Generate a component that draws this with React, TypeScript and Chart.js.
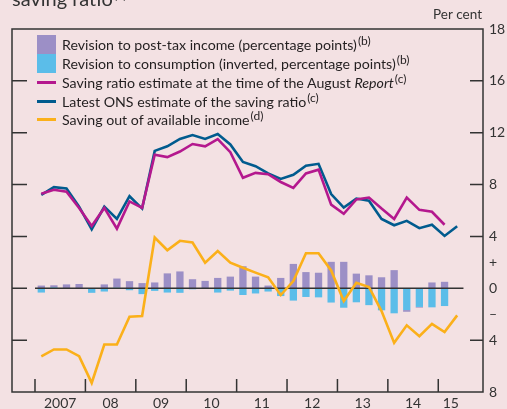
import React, { useEffect, useRef } from 'react';
import { Chart, registerables } from 'chart.js';

Chart.register(...registerables);

// ---- Data ----
const quarters = [
  '2007 Q1', '2007 Q2', '2007 Q3', '2007 Q4',
  '2008 Q1', '2008 Q2', '2008 Q3', '2008 Q4',
  '2009 Q1', '2009 Q2', '2009 Q3', '2009 Q4',
  '2010 Q1', '2010 Q2', '2010 Q3', '2010 Q4',
  '2011 Q1', '2011 Q2', '2011 Q3', '2011 Q4',
  '2012 Q1', '2012 Q2', '2012 Q3', '2012 Q4',
  '2013 Q1', '2013 Q2', '2013 Q3', '2013 Q4',
  '2014 Q1', '2014 Q2', '2014 Q3', '2014 Q4',
  '2015 Q1', '2015 Q2',
];
const yearLabels = ['2007', '08', '09', '10', '11', '12', '13', '14', '15'];

// Revision to post-tax income (percentage points)
const incomeRevision = [
  0.21, 0.15, 0.3, 0.33, 0.0, 0.3, 0.7, 0.55, 0.4, 0.45, 1.15, 1.3,
  0.7, 0.57, 0.8, 0.9, 1.7, 0.9, 0.21, 0.8, 1.88, 1.25, 1.2, 2.04,
  2.04, 1.13, 1.0, 0.85, 1.4, -0.13, -0.05, 0.45, 0.5,
];
// Revision to consumption (inverted, percentage points)
const consumptionRevision = [
  -0.33, 0.08, -0.03, -0.03, -0.35, -0.25, 0.05, -0.15, -0.45, -0.2, -0.33, -0.35,
  -0.08, -0.05, -0.33, -0.18, -0.52, -0.4, -0.25, -0.6, -0.95, -0.67, -0.7, -1.1,
  -1.5, -1.08, -1.3, -1.7, -1.93, -1.68, -1.44, -1.47, -1.37,
];
// Saving ratio estimate at the time of the August Report
const augustEstimate = [
  7.3, 7.6, 7.45, 6.2, 4.8, 6.2, 4.6, 6.7, 6.2, 10.3, 10.12, 10.55,
  11.13, 10.95, 11.5, 10.5, 8.52, 8.9, 8.8, 8.2, 7.75, 8.86, 9.15, 6.45,
  5.75, 6.85, 7.0, 6.15, 5.35, 7.0, 6.05, 5.9, 4.9,
];
// Latest ONS estimate of the saving ratio
const onsEstimate = [
  7.2, 7.8, 7.7, 6.3, 4.55, 6.3, 5.35, 7.1, 6.15, 10.6, 10.95, 11.52,
  11.82, 11.52, 11.9, 11.1, 9.74, 9.42, 8.86, 8.44, 8.75, 9.46, 9.6, 7.27,
  6.22, 6.92, 6.75, 5.35, 4.86, 5.2, 4.64, 4.9, 4.04, 4.78,
];
// Saving out of available income
const savingAvailable = [
  -5.25, -4.72, -4.72, -5.24, -7.3, -4.34, -4.33, -2.2, -2.14, 3.92, 2.94, 3.66,
  3.53, 1.98, 2.88, 1.98, 1.59, 1.21, 0.85, -0.52, 0.56, 2.7, 2.7, 1.38,
  -0.98, 0.43, 0.1, -1.76, -4.21, -2.86, -3.69, -2.74, -3.38, -2.09,
];

const yTickValues = [20, 16, 12, 8, 4, 2, 0, -2, -4, -8];
const yTickText = ['18', '16', '12', '8', '4', '+', '0', '\u2013', '4', '8'];
const leftTickMarks = [16, 12, 8, 4, 0, -4];
const rightTickMarks = [16, 12, 8, 4, -4];

// ---- Styles ----
const FONT = 'Lato, "Open Sans", sans-serif';
const BG = '#f3e1e3';
const INK = '#333333';
const C_PURPLE = '#9c8fc6';
const C_CYAN = '#5bbde9';
const C_MAGENTA = '#b4188e';
const C_NAVY = '#005b8e';
const C_ORANGE = '#fbb01a';

const pts = (arr: number[]) => arr.map((v, i) => ({ x: i, y: v }));

const decorPlugin = {
  id: 'decor',
  beforeDraw(chart: any) {
    const { ctx, width, height } = chart;
    ctx.save();
    ctx.fillStyle = BG;
    ctx.fillRect(0, 0, width, height);
    ctx.restore();
  },
  afterDatasetDraw(chart: any, args: any) {
    if (args.index !== 0) return;
    const { ctx } = chart;
    const x = chart.scales.x;
    const y = chart.scales.y;
    const y0 = y.getPixelForValue(0);
    ctx.save();
    ctx.strokeStyle = INK;
    ctx.lineWidth = 1.5;
    ctx.beginPath();
    ctx.moveTo(x.getPixelForValue(-0.5), y0);
    ctx.lineTo(x.getPixelForValue(quarters.length - 0.5), y0);
    ctx.stroke();
    ctx.restore();
  },
  afterDraw(chart: any) {
    const { ctx, chartArea: a } = chart;
    const x = chart.scales.x;
    const y = chart.scales.y;
    ctx.save();
    ctx.strokeStyle = INK;
    ctx.lineWidth = 1.5;
    // frame
    ctx.strokeRect(a.left, a.top, a.right - a.left, a.bottom - a.top);
    // inner y ticks
    ctx.beginPath();
    leftTickMarks.forEach((v) => {
      const py = y.getPixelForValue(v);
      ctx.moveTo(a.left, py);
      ctx.lineTo(a.left + 15, py);
    });
    rightTickMarks.forEach((v) => {
      const py = y.getPixelForValue(v);
      ctx.moveTo(a.right, py);
      ctx.lineTo(a.right - 13, py);
    });
    // year boundary ticks
    for (let k = 0; k < yearLabels.length; k++) {
      const px = x.getPixelForValue(4 * k - 0.5);
      ctx.moveTo(px, a.bottom);
      ctx.lineTo(px, a.bottom - 13);
    }
    ctx.stroke();

    // title (cropped at the top) and unit label
    ctx.fillStyle = INK;
    ctx.textBaseline = 'alphabetic';
    ctx.font = `20px ${FONT}`;
    ctx.textAlign = 'left';
    ctx.fillText('saving ratio', 12, 6);
    const tw = ctx.measureText('saving ratio').width;
    ctx.font = `13px ${FONT}`;
    ctx.fillText('(a)', 12 + tw + 1, -1);
    ctx.font = `13.5px ${FONT}`;
    ctx.textAlign = 'right';
    ctx.fillText('Per cent', 482, 19);
    ctx.restore();
  },
};

const legendItems = [
  { kind: 'box', color: C_PURPLE, text: 'Revision to post-tax income (percentage points)', sup: '(b)' },
  { kind: 'box', color: C_CYAN, text: 'Revision to consumption (inverted, percentage points)', sup: '(b)' },
  { kind: 'line', color: C_MAGENTA, text: 'Saving ratio estimate at the time of the August ', italic: 'Report', sup: '(c)' },
  { kind: 'line', color: C_NAVY, text: 'Latest ONS estimate of the saving ratio', sup: '(c)' },
  { kind: 'line', color: C_ORANGE, text: 'Saving out of available income', sup: '(d)' },
];

export default function App() {
  const ref = useRef<HTMLCanvasElement | null>(null);

  useEffect(() => {
    document.body.style.margin = '0';
    document.body.style.background = BG;
    if (!ref.current) return;
    const chart = new Chart(ref.current, {
      type: 'bar',
      data: {
        datasets: [
          {
            type: 'bar',
            label: 'Revision to consumption (inverted, percentage points)',
            data: pts(consumptionRevision),
            backgroundColor: C_CYAN,
            stack: 'rev',
            order: 10,
            barPercentage: 0.58,
            categoryPercentage: 1,
          } as any,
          {
            type: 'bar',
            label: 'Revision to post-tax income (percentage points)',
            data: pts(incomeRevision),
            backgroundColor: C_PURPLE,
            stack: 'rev',
            order: 10,
            barPercentage: 0.58,
            categoryPercentage: 1,
          } as any,
          {
            type: 'line',
            label: 'Saving out of available income',
            data: pts(savingAvailable),
            borderColor: C_ORANGE,
            borderWidth: 2.6,
            pointRadius: 0,
            tension: 0,
            order: 3,
          } as any,
          {
            type: 'line',
            label: 'Latest ONS estimate of the saving ratio',
            data: pts(onsEstimate),
            borderColor: C_NAVY,
            borderWidth: 2.6,
            pointRadius: 0,
            tension: 0,
            order: 2,
          } as any,
          {
            type: 'line',
            label: 'Saving ratio estimate at the time of the August Report',
            data: pts(augustEstimate),
            borderColor: C_MAGENTA,
            borderWidth: 2.6,
            pointRadius: 0,
            tension: 0,
            order: 1,
          } as any,
        ],
      },
      options: {
        responsive: false,
        animation: false,
        layout: { padding: { left: 12, top: 29, right: 0, bottom: 0 } },
        plugins: { legend: { display: false }, tooltip: { enabled: false }, title: { display: false } },
        scales: {
          x: {
            type: 'linear',
            position: 'bottom',
            min: -2.325,
            max: 35.05,
            offset: false,
            grid: { display: false, drawTicks: false, offset: false },
            border: { display: false },
            afterBuildTicks: (s: any) => {
              s.ticks = yearLabels.map((_, k) => {
                const first = 4 * k;
                const last = Math.min(4 * k + 3, quarters.length - 1);
                return { value: (first + last) / 2 };
              });
            },
            afterFit: (s: any) => {
              s.height = 17;
            },
            ticks: {
              autoSkip: false,
              maxRotation: 0,
              padding: 3,
              color: INK,
              font: { family: FONT, size: 14 },
              callback: (_v: any, i: number) => yearLabels[i],
            },
          },
          y: {
            type: 'linear',
            position: 'right',
            min: -8,
            max: 20,
            grid: { display: false, drawTicks: false },
            border: { display: false },
            afterBuildTicks: (s: any) => {
              s.ticks = yTickValues.map((v) => ({ value: v }));
            },
            afterFit: (s: any) => {
              s.width = 24;
            },
            ticks: {
              autoSkip: false,
              padding: 6,
              color: INK,
              font: { family: FONT, size: 14 },
              callback: (_v: any, i: number) => yTickText[i],
            },
          },
        },
      } as any,
      plugins: [decorPlugin],
    });
    return () => chart.destroy();
  }, []);

  const rowCenters = [44, 63, 82, 101, 119.5];

  return (
    <div style={{ position: 'relative', width: 507, height: 409, background: BG, overflow: 'hidden' }}>
      <canvas ref={ref} width={507} height={409} style={{ display: 'block' }} />
      {legendItems.map((it, i) => (
        <div
          key={i}
          style={{
            position: 'absolute',
            left: 37,
            top: rowCenters[i] - 10,
            height: 20,
            display: 'flex',
            alignItems: 'center',
            fontFamily: FONT,
            fontSize: 14.2,
            color: '#231f20',
            whiteSpace: 'nowrap',
          }}
        >
          <span
            style={{
              display: 'inline-block',
              width: 19,
              height: it.kind === 'box' ? 19 : 3,
              background: it.color,
              marginRight: 6,
            }}
          />
          <span>
            {it.text}
            {it.italic ? <i>{it.italic}</i> : null}
            <span style={{ fontSize: 12, position: 'relative', top: -5, marginLeft: 1 }}>{it.sup}</span>
          </span>
        </div>
      ))}
    </div>
  );
}
